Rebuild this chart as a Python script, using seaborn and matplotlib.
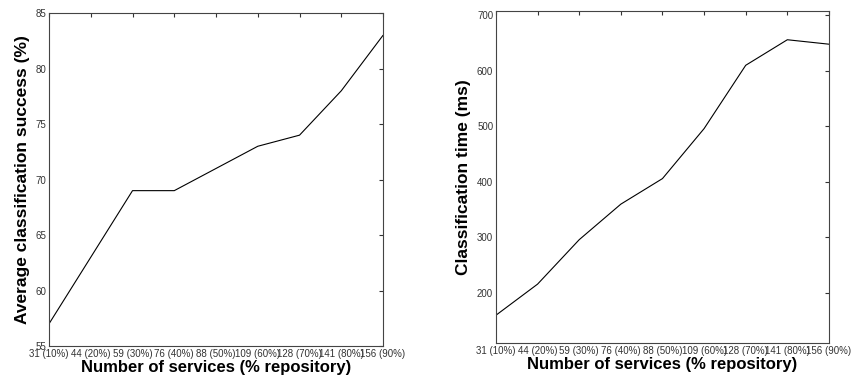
import pandas as pd
import matplotlib
matplotlib.use('Agg')
import matplotlib.pyplot as plt
import seaborn as sns

# Data
services = ['31 (10%)', '44 (20%)', '59 (30%)', '76 (40%)', '88 (50%)',
            '109 (60%)', '128 (70%)', '141 (80%)', '156 (90%)']
success = [57, 63, 69, 69, 71, 73, 74, 78, 83]
time_ms = [160, 216, 296, 360, 406, 496, 610, 656, 648]

df = pd.DataFrame({'pos': range(len(services)), 'services': services,
                   'success': success, 'time': time_ms})

sns.set_style("white")
plt.rcParams['font.family'] = ['Liberation Sans', 'DejaVu Sans']

fig = plt.figure(figsize=(8.51, 3.80), dpi=100)
ax1 = fig.add_axes([0.0576, 0.0895, 0.3925, 0.876])
ax2 = fig.add_axes([0.5828, 0.0974, 0.3913, 0.874])

def style(ax, ylabel, ylim, yticks):
    ax.set_xlim(0, len(services) - 1)
    ax.set_ylim(*ylim)
    ax.set_xticks(range(len(services)))
    ax.set_xticklabels(services)
    ax.set_yticks(yticks)
    ax.tick_params(axis='both', which='both', direction='in', length=3,
                   top=True, right=True, labelsize=7, colors='#333333',
                   pad=2)
    for s in ax.spines.values():
        s.set_color('#444444')
        s.set_linewidth(0.8)
    ax.set_xlabel('Number of services (% repository)', fontsize=12,
                  fontweight='bold', labelpad=1, color='black')
    ax.set_ylabel(ylabel, fontsize=12.5, fontweight='bold', labelpad=4,
                  color='black')

sns.lineplot(x='pos', y='success', data=df, ax=ax1, color='black', linewidth=0.8)
style(ax1, 'Average classification success (%)', (55, 85), range(55, 86, 5))

sns.lineplot(x='pos', y='time', data=df, ax=ax2, color='black', linewidth=0.8)
style(ax2, 'Classification time (ms)', (110, 708), range(200, 701, 100))

plt.savefig('out.png', dpi=100)
